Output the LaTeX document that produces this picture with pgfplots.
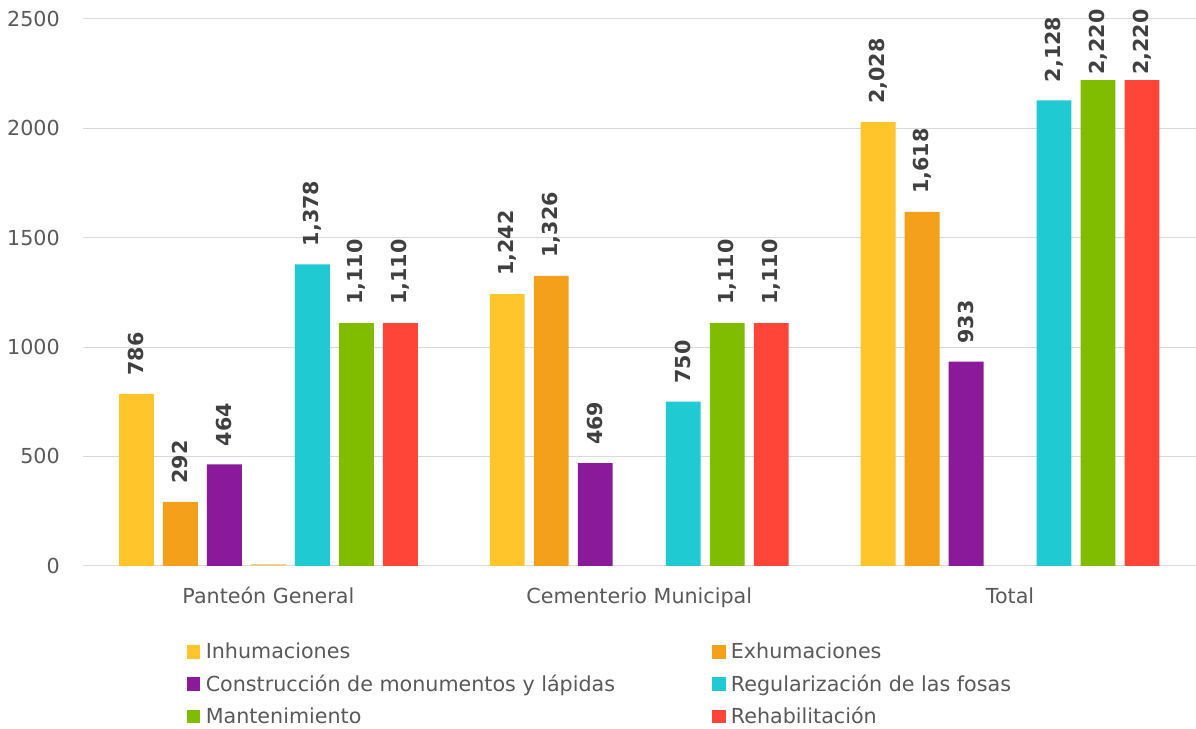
\documentclass[border=0pt]{standalone}
\usepackage{fontspec}
\setmainfont{DejaVu Sans}
\usepackage{pgfplots}
\usepackage{pgfplotstable}
\pgfplotsset{compat=1.18}
\definecolor{cInh}{HTML}{FFC52A}
\definecolor{cExh}{HTML}{F5A01A}
\definecolor{cCon}{HTML}{8B1A9A}
\definecolor{cReg}{HTML}{1FCAD3}
\definecolor{cMan}{HTML}{80BC00}
\definecolor{cReh}{HTML}{FF4538}
\definecolor{cGhost}{HTML}{F0CF86}
\definecolor{gridc}{HTML}{D9D9D9}
\definecolor{tickc}{HTML}{595959}
\definecolor{labelc}{HTML}{404040}

\pgfplotstableread{
x y g
0 786 13.5
1 1242 13.5
2 2028 13.5
}\inh
\pgfplotstableread{
x y g
0 292 13.5
1 1326 13.5
2 1618 13.5
}\exh
\pgfplotstableread{
x y g
0 464 13.5
1 469 13.5
2 933 13.5
}\con
\pgfplotstableread{
x y g
0 7 0
}\ghost
\pgfplotstableread{
x y g
0 1378 13.5
1 750 13.5
2 2128 13.5
}\reg
\pgfplotstableread{
x y g
0 1110 13.5
1 1110 13.5
2 2220 3.75
}\man
\pgfplotstableread{
x y g
0 1110 13.5
1 1110 13.5
2 2220 3.75
}\reh

\pgfplotsset{
  lbl/.style={
    visualization depends on={\thisrow{g}\as\gap},
    nodes near coords={\pgfmathprintnumber[fixed,precision=0,1000 sep={,}]{\pgfplotspointmeta}},
    every node near coord/.append style={yshift=\gap pt, rotate=90, anchor=west, inner sep=0pt,
      font=\fontsize{15.5}{18}\selectfont\bfseries, text=labelc},
  },
}

\begin{document}
\begin{tikzpicture}
\begin{axis}[
  name=ax,
  width=834.75pt, height=410.25pt, scale only axis,
  xmin=-0.5, xmax=2.5, ymin=0, ymax=2500,
  ytick={0,500,1000,1500,2000,2500},
  xtick={0,1,2},
  xticklabels={Panteón General, Cementerio Municipal, Total},
  major tick length=0pt,
  ymajorgrids, grid style={draw=gridc, line width=0.75pt},
  axis line style={draw=none},
  tick label style={font=\fontsize{15.5}{18}\selectfont, text=tickc},
  /pgf/number format/assume math mode=true,
  /pgf/number format/1000 sep={},
  yticklabel style={inner sep=0pt, xshift=-17.25pt},
  xticklabel style={inner sep=0pt, yshift=-16pt},
  ybar, bar width=0.094,
  legend style={at={(0.0934,-0.141)}, anchor=north west, draw=none, fill=none,
    inner sep=0pt, row sep=10.5pt,
    font=\fontsize{15.5}{18}\selectfont, text=tickc,
    nodes={inner sep=0pt},
    /tikz/every odd column/.append style={column sep=4pt}},
  legend columns=2,
  legend cell align=left,
  legend image code/.code={\fill[#1, draw=none] (0pt,-5pt) rectangle (10pt,5pt);},
]
\addplot[fill=cInh, draw=none, bar shift=-0.3558, lbl] table[x=x,y=y] {\inh};
\addlegendentry{\makebox[380pt][l]{Inhumaciones}}
\addplot[fill=cExh, draw=none, bar shift=-0.2372, lbl] table[x=x,y=y] {\exh};
\addlegendentry{Exhumaciones}
\addplot[fill=cCon, draw=none, bar shift=-0.1186, lbl] table[x=x,y=y] {\con};
\addlegendentry{\makebox[380pt][l]{Construcción de monumentos y lápidas}}
\addplot[fill=cReg, draw=none, bar shift=0.1186, lbl] table[x=x,y=y] {\reg};
\addlegendentry{Regularización de las fosas}
\addplot[fill=cMan, draw=none, bar shift=0.2372, lbl] table[x=x,y=y] {\man};
\addlegendentry{\makebox[380pt][l]{Mantenimiento}}
\addplot[fill=cReh, draw=none, bar shift=0.3558, lbl] table[x=x,y=y] {\reh};
\addlegendentry{Rehabilitación}
\addplot[fill=cGhost, draw=none, bar shift=0, forget plot] table[x=x,y=y] {\ghost};
\end{axis}
\path ([xshift=-62.25pt,yshift=14.25pt]ax.north west);
\path ([yshift=-122.25pt]ax.south west);
\end{tikzpicture}
\end{document}
